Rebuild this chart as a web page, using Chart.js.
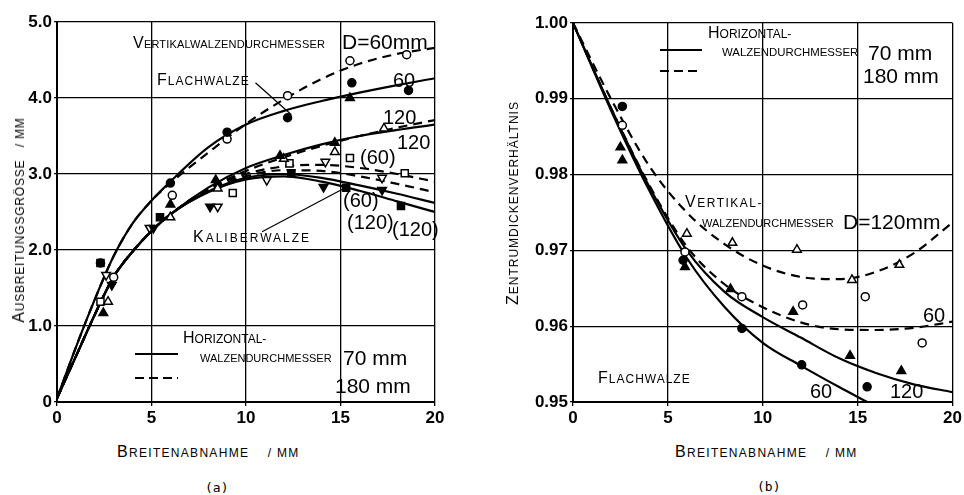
<!DOCTYPE html>
<html lang="de">
<head>
<meta charset="UTF-8">
<title>Ausbreitung und Zentrumdickenverhältnis</title>
<script src="https://cdn.jsdelivr.net/npm/chart.js"></script>
<style>
  body { margin: 0; background: #fff; }
  #page { position: relative; width: 964px; height: 495px; overflow: hidden;
          font-family: "Liberation Sans", Arial, sans-serif; color: #000; }
  canvas { position: absolute; top: 0; }
  .t { position: absolute; white-space: nowrap; line-height: 1; }
  .sc { text-transform: uppercase; font-size: 12px; }
  .fl::first-letter { font-size: 16px; }
  .num { font-size: 21px; }
  .lab { font-size: 20px; }
  .rot { transform: translate(-50%, -50%) rotate(-90deg); }
  .solid, .dash { position: absolute; height: 2px; }
  .solid { background: #000; }
  .dash { background: repeating-linear-gradient(90deg, #000 0 9px, transparent 9px 14px); }
  .cap { font-family: "DejaVu Sans Mono", monospace; font-size: 13px; }
</style>
</head>
<body>
<div id="page">
  <canvas id="chartA" width="470" height="440" style="left:0"></canvas>
  <canvas id="chartB" width="464" height="440" style="left:500px"></canvas>

  <!-- Bild (a) -->
  <div class="t sc fl" style="left:133px;top:35px;font-size:11px;letter-spacing:0.2px">Vertikalwalzendurchmesser</div>
  <div class="t num" style="left:342px;top:31px">D=60mm</div>
  <div class="t sc fl" style="left:157px;top:72px;letter-spacing:1px">Flachwalze</div>
  <div class="t lab" style="left:393px;top:70px">60</div>
  <div class="t lab" style="left:383px;top:107px">120</div>
  <div class="t lab" style="left:397px;top:132px">120</div>
  <div class="t lab" style="left:360px;top:147px">(60)</div>
  <div class="t lab" style="left:343px;top:190px">(60)</div>
  <div class="t lab" style="left:347px;top:212px">(120)</div>
  <div class="t lab" style="left:392px;top:219px">(120)</div>
  <div class="t sc fl" style="left:193px;top:229px;letter-spacing:2px">Kaliberwalze</div>
  <div class="t sc fl" style="left:183px;top:330px">Horizontal-</div>
  <div class="t sc" style="left:200px;top:353px;font-size:11px">walzendurchmesser</div>
  <div class="t num" style="left:343px;top:347px">70 mm</div>
  <div class="t num" style="left:335px;top:375px">180 mm</div>
  <div class="solid" style="left:135px;top:353px;width:43px"></div>
  <div class="dash" style="left:135px;top:377px;width:43px"></div>
  <div class="t sc fl" style="left:117px;top:444px;letter-spacing:1.3px">Breitenabnahme &nbsp;&nbsp;&nbsp;/ mm</div>
  <div class="t cap" style="left:205px;top:481px">(a)</div>
  <div class="t sc fl rot" style="left:19px;top:220px;letter-spacing:0.8px">Ausbreitungsgrösse &nbsp;&nbsp;/ mm</div>

  <!-- Bild (b) -->
  <div class="t sc fl" style="left:708px;top:25px">Horizontal-</div>
  <div class="t sc" style="left:722px;top:47px;font-size:11.4px">walzendurchmesser</div>
  <div class="t num" style="left:868px;top:42px">70 mm</div>
  <div class="t num" style="left:863px;top:65px">180 mm</div>
  <div class="solid" style="left:660px;top:49px;width:42px"></div>
  <div class="dash" style="left:660px;top:70px;width:42px"></div>
  <div class="t sc fl" style="left:685px;top:194px;letter-spacing:1.5px">Vertikal-</div>
  <div class="t sc" style="left:702px;top:218px;font-size:11px">walzendurchmesser</div>
  <div class="t num" style="left:843px;top:211px">D=120mm</div>
  <div class="t lab" style="left:923px;top:305px">60</div>
  <div class="t sc fl" style="left:598px;top:370px;letter-spacing:1px">Flachwalze</div>
  <div class="t lab" style="left:810px;top:381px">60</div>
  <div class="t lab" style="left:890px;top:381px">120</div>
  <div class="t sc fl" style="left:675px;top:444px;letter-spacing:1.3px">Breitenabnahme &nbsp;&nbsp;&nbsp;/ mm</div>
  <div class="t cap" style="left:757px;top:480px">(b)</div>
  <div class="t sc fl rot" style="left:513px;top:203px;letter-spacing:1px">Zentrumdickenverhältnis</div>
</div>

<script>
  // ---- (a) Ausbreitungsgrösse, Kurven ----
  const xCurveA = [0, 1, 2, 3, 4, 5, 6, 8, 10, 12, 14, 16, 18, 20];
  const flach60Solid  = [0.05, 0.72, 1.35, 1.92, 2.35, 2.65, 2.9, 3.35, 3.65, 3.83, 3.96, 4.07, 4.17, 4.26];
  const flach60Dashed = [0.05, 0.72, 1.35, 1.92, 2.35, 2.65, 2.88, 3.28, 3.66, 3.98, 4.25, 4.45, 4.58, 4.66];
  const flach120Solid  = [0.05, 0.6, 1.15, 1.65, 1.98, 2.25, 2.47, 2.82, 3.08, 3.25, 3.39, 3.5, 3.58, 3.65];
  const flach120Dashed = [0.05, 0.6, 1.15, 1.65, 1.98, 2.25, 2.47, 2.8, 3.04, 3.22, 3.37, 3.5, 3.61, 3.71];
  const kal60Dashed  = [0.05, 0.6, 1.15, 1.65, 1.98, 2.25, 2.47, 2.8, 3.0, 3.1, 3.12, 3.08, 3.0, 2.9];
  const kal120Dashed = [0.05, 0.6, 1.15, 1.65, 1.98, 2.25, 2.47, 2.78, 2.97, 3.05, 3.04, 2.97, 2.87, 2.76];
  const kal60Solid   = [0.05, 0.6, 1.15, 1.65, 1.98, 2.25, 2.47, 2.77, 2.95, 3.0, 2.95, 2.85, 2.74, 2.62];
  const kal120Solid  = [0.05, 0.6, 1.15, 1.65, 1.98, 2.25, 2.47, 2.76, 2.93, 2.97, 2.9, 2.78, 2.64, 2.5];

  // ---- (a) Messpunkte ----
  const circFilledAx = [2.3, 6.0, 9.0, 12.2, 15.6, 18.6];
  const circFilledAy = [1.83, 2.88, 3.55, 3.74, 4.2, 4.1];
  const circOpenAx = [3.0, 6.1, 9.0, 12.2, 15.5, 18.5];
  const circOpenAy = [1.64, 2.72, 3.46, 4.03, 4.49, 4.57];
  const triFilledAx = [2.45, 6.0, 8.4, 11.8, 14.7, 15.5];
  const triFilledAy = [1.17, 2.6, 2.92, 3.24, 3.41, 4.0];
  const triOpenAx = [2.7, 6.0, 8.5, 12.0, 14.7, 17.3];
  const triOpenAy = [1.32, 2.43, 2.81, 3.2, 3.29, 3.6];
  const sqFilledAx = [2.3, 5.45, 12.4, 15.3, 18.2];
  const sqFilledAy = [1.83, 2.43, 3.01, 2.82, 2.58];
  const sqOpenAx = [2.3, 9.3, 12.3, 15.5, 18.4];
  const sqOpenAy = [1.32, 2.75, 3.14, 3.21, 3.01];
  const downFilledAx = [2.9, 5.1, 8.1, 14.1, 17.2];
  const downFilledAy = [1.54, 2.29, 2.57, 2.83, 2.79];
  const downOpenAx = [2.6, 4.9, 8.5, 11.1, 14.2, 17.2];
  const downOpenAy = [1.67, 2.29, 2.57, 2.92, 3.16, 2.95];

  // ---- (b) Zentrumdickenverhältnis ----
  const xCurveB60 = [0, 2, 4, 6, 8, 10, 12, 14, 15.5];
  const solid60B = [1.0, 0.9885, 0.978, 0.969, 0.9625, 0.9578, 0.9548, 0.952, 0.950];
  const xCurveB = [0, 2, 4, 6, 8, 10, 12, 14, 16, 18, 20];
  const solid120B  = [1.0, 0.9888, 0.9785, 0.970, 0.9645, 0.9612, 0.9585, 0.9558, 0.9538, 0.9523, 0.9513];
  const dashed60B  = [1.0, 0.9888, 0.9787, 0.9705, 0.9655, 0.9625, 0.9605, 0.9596, 0.9595, 0.9598, 0.9606];
  const dashed120B = [1.0, 0.990, 0.9812, 0.975, 0.9708, 0.968, 0.9665, 0.9662, 0.9672, 0.9697, 0.9737];

  const circFilledBx = [2.6, 5.8, 8.9, 12.05, 15.5];
  const circFilledBy = [0.989, 0.9687, 0.9597, 0.9549, 0.952];
  const circOpenBx = [2.6, 5.9, 8.9, 12.1, 15.4, 18.4];
  const circOpenBy = [0.9865, 0.9698, 0.9639, 0.9628, 0.9639, 0.9578];
  const triFilledBx = [2.5, 2.6, 5.9, 8.3, 11.6, 14.6, 17.3];
  const triFilledBy = [0.9836, 0.9819, 0.9678, 0.9649, 0.9619, 0.9561, 0.9541];
  const triOpenBx = [6.0, 8.4, 11.8, 14.7, 17.2];
  const triOpenBy = [0.9722, 0.971, 0.9701, 0.9661, 0.9681];

  function xy(xs, ys) { return xs.map((x, i) => ({ x: x, y: ys[i] })); }

  function curve(xs, ys, dashed) {
    return {
      type: 'line', data: xy(xs, ys), borderColor: '#000', borderWidth: 2.2,
      borderDash: dashed ? [9, 6] : [], pointRadius: 0, fill: false,
      cubicInterpolationMode: 'monotone'
    };
  }

  function marks(xs, ys, style, filled, rot) {
    return {
      type: 'scatter', data: xy(xs, ys), pointStyle: style, rotation: rot || 0,
      pointRadius: style === 'circle' ? 4 : 5, borderWidth: 1.5, borderColor: '#000',
      backgroundColor: filled ? '#000' : '#fff', showLine: false
    };
  }

  const tickFont = { family: 'Liberation Sans', size: 17, weight: 'bold' };

  function axes(yMin, yMax, yStep, yFmt, yWidth) {
    return {
      x: {
        type: 'linear', min: 0, max: 20,
        ticks: { stepSize: 5, color: '#000', font: tickFont, padding: 2, maxRotation: 0 },
        grid: { color: '#000', lineWidth: 1.3, tickLength: 4 },
        border: { color: '#000', width: 2 },
        afterFit: s => { s.height = 38; }
      },
      y: {
        type: 'linear', min: yMin, max: yMax,
        ticks: { stepSize: yStep, color: '#000', font: tickFont, padding: 2, callback: yFmt },
        grid: { color: '#000', lineWidth: 1.3, tickLength: 3 },
        border: { color: '#000', width: 2 },
        afterFit: s => { s.width = yWidth; }
      }
    };
  }

  // Hinweislinien von den Beschriftungen zu den Kurven
  const leaderPlugin = {
    id: 'leaders',
    afterDatasetsDraw(chart, args, opts) {
      const { ctx, scales } = chart;
      ctx.save();
      ctx.strokeStyle = '#000';
      ctx.lineWidth = 1.2;
      (opts.lines || []).forEach(l => {
        ctx.beginPath();
        ctx.moveTo(scales.x.getPixelForValue(l[0]), scales.y.getPixelForValue(l[1]));
        for (let i = 2; i < l.length; i += 2) {
          ctx.lineTo(scales.x.getPixelForValue(l[i]), scales.y.getPixelForValue(l[i + 1]));
        }
        ctx.stroke();
      });
      ctx.restore();
    }
  };

  new Chart(document.getElementById('chartA'), {
    type: 'scatter',
    data: {
      datasets: [
        marks(circFilledAx, circFilledAy, 'circle', true),
        marks(circOpenAx, circOpenAy, 'circle', false),
        marks(triFilledAx, triFilledAy, 'triangle', true),
        marks(triOpenAx, triOpenAy, 'triangle', false),
        marks(sqFilledAx, sqFilledAy, 'rect', true),
        marks(sqOpenAx, sqOpenAy, 'rect', false),
        marks(downFilledAx, downFilledAy, 'triangle', true, 180),
        marks(downOpenAx, downOpenAy, 'triangle', false, 180),
        curve(xCurveA, flach60Solid, false),
        curve(xCurveA, flach60Dashed, true),
        curve(xCurveA, flach120Solid, false),
        curve(xCurveA, flach120Dashed, true),
        curve(xCurveA, kal60Dashed, true),
        curve(xCurveA, kal120Dashed, true),
        curve(xCurveA, kal60Solid, false),
        curve(xCurveA, kal120Solid, false)
      ]
    },
    options: {
      responsive: false,
      animation: false,
      layout: { padding: { top: 22, right: 35, left: 0, bottom: 0 } },
      scales: axes(0, 5, 1, v => (v === 0 ? '0' : v.toFixed(1)), 57),
      plugins: {
        legend: { display: false },
        tooltip: { enabled: false },
        leaders: { lines: [[10.5, 4.2, 12.4, 3.78], [10.85, 2.24, 15.1, 2.8]] }
      }
    },
    plugins: [leaderPlugin]
  });

  new Chart(document.getElementById('chartB'), {
    type: 'scatter',
    data: {
      datasets: [
        marks(circFilledBx, circFilledBy, 'circle', true),
        marks(circOpenBx, circOpenBy, 'circle', false),
        marks(triFilledBx, triFilledBy, 'triangle', true),
        marks(triOpenBx, triOpenBy, 'triangle', false),
        curve(xCurveB60, solid60B, false),
        curve(xCurveB, solid120B, false),
        curve(xCurveB, dashed60B, true),
        curve(xCurveB, dashed120B, true)
      ]
    },
    options: {
      responsive: false,
      animation: false,
      layout: { padding: { top: 23, right: 11, left: 0, bottom: 0 } },
      scales: axes(0.95, 1.0, 0.01, v => v.toFixed(2), 73),
      plugins: { legend: { display: false }, tooltip: { enabled: false } }
    }
  });
</script>
</body>
</html>
